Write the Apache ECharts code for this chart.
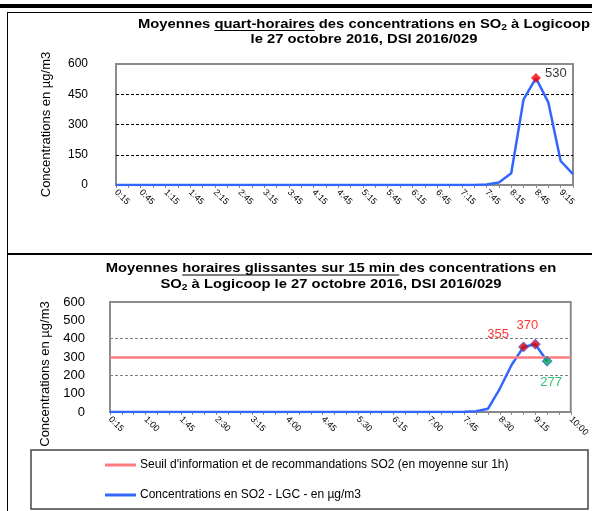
<!DOCTYPE html>
<html>
<head>
<meta charset="utf-8">
<script src="https://cdn.jsdelivr.net/npm/echarts@6/dist/echarts.min.js"></script>
<style>
  html, body { margin: 0; padding: 0; background: #fff; }
  #chart { width: 592px; height: 511px; }
</style>
</head>
<body>
<div id="chart"></div>
<script>
  // moyennes quart-horaires
  var quarterTimes = ['0:15', '0:30', '0:45', '1:00', '1:15', '1:30', '1:45', '2:00', '2:15', '2:30',
    '2:45', '3:00', '3:15', '3:30', '3:45', '4:00', '4:15', '4:30', '4:45', '5:00',
    '5:15', '5:30', '5:45', '6:00', '6:15', '6:30', '6:45', '7:00', '7:15', '7:30',
    '7:45', '8:00', '8:15', '8:30', '8:45', '9:00', '9:15', '9:30'];
  var quarterValues = [0, 0, 0, 0, 0, 0, 0, 0, 0, 0,
    0, 0, 0, 0, 0, 0, 0, 0, 0, 0,
    0, 0, 0, 0, 0, 0, 0, 0, 0, 0,
    3, 12, 58, 425, 530, 410, 119, 54];
  var quarterPeakTimes = ['8:45'];
  var quarterPeakValues = [530];

  // moyennes horaires glissantes
  var slidingTimes = ['0:15', '0:30', '0:45', '1:00', '1:15', '1:30', '1:45', '2:00', '2:15', '2:30',
    '2:45', '3:00', '3:15', '3:30', '3:45', '4:00', '4:15', '4:30', '4:45', '5:00',
    '5:15', '5:30', '5:45', '6:00', '6:15', '6:30', '6:45', '7:00', '7:15', '7:30',
    '7:45', '8:00', '8:15', '8:30', '8:45', '9:00', '9:15', '9:30', '9:45', '10:00'];
  var slidingValues = [0, 0, 0, 0, 0, 0, 0, 0, 0, 0,
    0, 0, 0, 0, 0, 0, 0, 0, 0, 0,
    0, 0, 0, 0, 0, 0, 0, 0, 0, 0,
    1, 4, 18, 128, 258, 355, 370, 277, null, null];
  var slidingMarkTimes = ['9:00', '9:15', '9:30'];
  var slidingMarkValues = [355, 370, 277];

  var seuilSO2 = 300;

  var nomSeuil = "Seuil d'information et de recommandations SO2 (en moyenne sur 1h)";
  var nomConc = 'Concentrations en SO2 - LGC - en µg/m3';

  var FONT = '"Liberation Sans", Arial, sans-serif';
  var BLUE = '#3366FF';
  var TSIZE = 13;

  // mesure du texte pour placer les soulignements et les indices
  var ctx = document.createElement('canvas').getContext('2d');
  function textW(t, size) {
    ctx.font = 'bold ' + size + 'px ' + FONT;
    return ctx.measureText(t).width;
  }
  // le titre d'origine est un peu étiré en largeur
  var stretch = 452 / (textW('Moyennes quart-horaires des concentrations en SO', TSIZE) + textW('2', 9) + textW(' à Logicoop', TSIZE));

  function titleLine(parts, cx, cy, out) {
    var total = 0;
    parts.forEach(function (p) {
      p.size = p.s ? 9 : TSIZE;
      p.w = textW(p.t, p.size) * stretch;
      total += p.w;
    });
    var x = cx - total / 2;
    parts.forEach(function (p) {
      out.push({
        type: 'text', x: x, y: cy + (p.s ? 4 : 0), scaleX: stretch, silent: true,
        style: {
          text: p.t, fontFamily: FONT, fontWeight: 'bold', fontSize: p.size,
          fill: '#000', align: 'left', verticalAlign: 'middle'
        }
      });
      if (p.u) {
        out.push({
          type: 'line', silent: true,
          shape: {x1: x, y1: cy + 6.5, x2: x + p.w, y2: cy + 6.5},
          style: {stroke: '#000', lineWidth: 1}
        });
      }
      x += p.w;
    });
  }

  var graphics = [
    {type: 'rect', shape: {x: 0, y: 4, width: 592, height: 4}, style: {fill: '#000'}, silent: true},
    {type: 'line', shape: {x1: 7.5, y1: 12, x2: 7.5, y2: 511}, style: {stroke: '#000', lineWidth: 1}, silent: true},
    {type: 'line', shape: {x1: 7, y1: 12.5, x2: 592, y2: 12.5}, style: {stroke: '#000', lineWidth: 1}, silent: true},
    {type: 'line', shape: {x1: 7, y1: 254, x2: 592, y2: 254}, style: {stroke: '#000', lineWidth: 2}, silent: true},
    {type: 'rect', shape: {x: 31, y: 450, width: 557, height: 59},
      style: {fill: 'none', stroke: '#444', lineWidth: 1.5}, silent: true}
  ];
  titleLine([{t: 'Moyennes '}, {t: 'quart-horaires', u: true}, {t: ' des concentrations en SO'}, {t: '2', s: true},
    {t: ' à Logicoop'}], 364, 24, graphics);
  titleLine([{t: 'le 27 octobre 2016, DSI 2016/029'}], 364, 39.5, graphics);
  titleLine([{t: 'Moyennes '}, {t: 'horaires glissantes sur 15 min ', u: true}, {t: 'des concentrations en'}],
    331, 268.5, graphics);
  titleLine([{t: 'SO'}, {t: '2', s: true}, {t: ' à Logicoop le 27 octobre 2016, DSI 2016/029'}], 331, 284, graphics);

  var quarterMarks = quarterPeakTimes.map(function (t, i) {
    return {
      value: [t, quarterPeakValues[i]],
      itemStyle: {color: '#FF0000'},
      label: {show: true, position: 'right', distance: 4, offset: [0, -5], color: '#000'}
    };
  });

  var markStyles = [
    {color: '#E00000', label: {position: 'left', distance: 9, offset: [0, -12], color: '#FF0000'}},
    {color: '#E00000', label: {position: 'top', distance: 5, offset: [-8, -2], color: '#FF0000'}},
    {color: '#00A050', label: {position: 'bottom', distance: 9, offset: [4, 0], color: '#00B050'}}
  ];
  var slidingMarks = slidingMarkTimes.map(function (t, i) {
    var st = markStyles[i];
    return {
      value: [t, slidingMarkValues[i]],
      itemStyle: {color: st.color, borderColor: BLUE, borderWidth: 1},
      label: Object.assign({show: true}, st.label)
    };
  });

  function xAxisConf(idx, data, labelInterval) {
    return {
      type: 'category', gridIndex: idx, data: data, boundaryGap: false,
      axisLine: {lineStyle: {color: '#888', width: 1.5}},
      axisTick: {show: true, interval: 0, length: 3, lineStyle: {color: '#888'}},
      axisLabel: {interval: labelInterval, rotate: -45, fontSize: 9, fontFamily: FONT, color: '#000', margin: 6},
      splitLine: {show: false}
    };
  }

  var chart = echarts.init(document.getElementById('chart'));
  chart.setOption({
    animation: false,
    backgroundColor: '#fff',
    textStyle: {fontFamily: FONT},
    grid: [
      {left: 116, top: 64, right: 19, height: 121, show: true, borderColor: '#8c8c8c', borderWidth: 2},
      {left: 110, top: 302, right: 19, height: 110, show: true, borderColor: '#8c8c8c', borderWidth: 2}
    ],
    xAxis: [xAxisConf(0, quarterTimes, 1), xAxisConf(1, slidingTimes, 2)],
    yAxis: [
      {
        type: 'value', gridIndex: 0, min: 0, max: 600, interval: 150,
        name: 'Concentrations en µg/m3', nameLocation: 'middle', nameGap: 63,
        nameTextStyle: {fontSize: 13, color: '#000', fontFamily: FONT},
        axisLine: {show: false}, axisTick: {show: false},
        axisLabel: {fontSize: 12, color: '#000', margin: 28, fontFamily: FONT},
        splitLine: {show: true, lineStyle: {color: ['rgba(0,0,0,0)', '#000', '#000', '#000', 'rgba(0,0,0,0)'], type: [3, 2], width: 1}}
      },
      {
        type: 'value', gridIndex: 1, min: 0, max: 600, interval: 100,
        name: 'Concentrations en µg/m3', nameLocation: 'middle', nameGap: 57,
        nameTextStyle: {fontSize: 13, color: '#000', fontFamily: FONT, padding: [0, 34, 0, 0]},
        axisLine: {show: false}, axisTick: {show: false},
        axisLabel: {fontSize: 13, color: '#000', margin: 25, fontFamily: FONT},
        splitLine: {show: true, lineStyle: {color: ['rgba(0,0,0,0)', 'rgba(0,0,0,0)', '#808080', 'rgba(0,0,0,0)', '#808080', 'rgba(0,0,0,0)', 'rgba(0,0,0,0)'], type: [3, 2], width: 1}}
      }
    ],
    legend: {
      orient: 'vertical', left: 105, top: 459, height: 50, padding: 0,
      icon: 'rect', itemWidth: 31, itemHeight: 3, itemGap: 18,
      textStyle: {fontSize: 12, color: '#000', fontFamily: FONT, padding: [0, 0, 0, -1]},
      data: [nomSeuil, nomConc],
      selectedMode: false
    },
    series: [
      {
        name: nomConc, type: 'line', xAxisIndex: 0, yAxisIndex: 0,
        data: quarterValues, symbol: 'none', z: 3,
        itemStyle: {color: BLUE}, lineStyle: {color: BLUE, width: 2.5}
      },
      {
        type: 'scatter', xAxisIndex: 0, yAxisIndex: 0, symbol: 'diamond', symbolSize: 10, z: 5,
        label: {fontSize: 13, formatter: function (p) { return p.value[1]; }},
        data: quarterMarks
      },
      {
        name: nomSeuil, type: 'line', xAxisIndex: 1, yAxisIndex: 1, data: [], symbol: 'none', z: 2,
        itemStyle: {color: '#FF7C80'}, lineStyle: {color: '#FF7C80', width: 2.5},
        markLine: {
          silent: true, symbol: ['none', 'none'], label: {show: false},
          lineStyle: {color: '#FF7C80', width: 2.5, type: 'solid'},
          data: [{yAxis: seuilSO2}]
        }
      },
      {
        name: nomConc, type: 'line', xAxisIndex: 1, yAxisIndex: 1,
        data: slidingValues, symbol: 'none', z: 3,
        itemStyle: {color: BLUE}, lineStyle: {color: BLUE, width: 2.5}
      },
      {
        type: 'scatter', xAxisIndex: 1, yAxisIndex: 1, symbol: 'diamond', symbolSize: 10, z: 5,
        label: {fontSize: 13, formatter: function (p) { return p.value[1]; }},
        data: slidingMarks
      }
    ],
    graphic: graphics
  });
</script>
</body>
</html>
